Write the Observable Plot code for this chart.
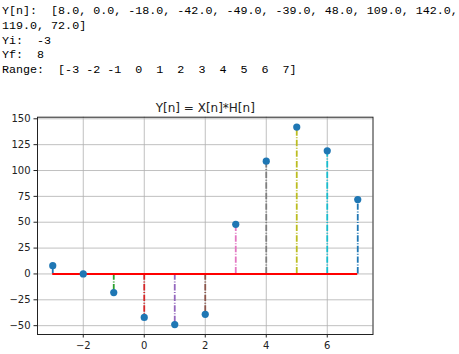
<!DOCTYPE html>
<html>
<head>
<meta charset="utf-8">
<script src="https://cdn.jsdelivr.net/npm/d3@7"></script>
<script src="https://cdn.jsdelivr.net/npm/@observablehq/plot@0.6"></script>
<style>
  html, body { margin: 0; padding: 0; background: #fff; width: 459px; height: 354px; overflow: hidden; }
  #out { position: absolute; left: 2px; top: 4px; margin: 0; font-family: "Liberation Mono", "DejaVu Sans Mono", monospace; font-size: 11.7px; line-height: 14.8px; color: #000; white-space: pre; }
  #chart { position: absolute; left: 0; top: 90px; }
</style>
</head>
<body>
<pre id="out"></pre>
<div id="chart"></div>
<script>
const n = [-3, -2, -1, 0, 1, 2, 3, 4, 5, 6, 7];
const yn = [8.0, 0.0, -18.0, -42.0, -49.0, -39.0, 48.0, 109.0, 142.0, 119.0, 72.0];
const Yi = -3;
const Yf = 8;
const xTicks = [-2, 0, 2, 4, 6];
const yTicks = [-50, -25, 0, 25, 50, 75, 100, 125, 150];
const title = "Y[n] = X[n]*H[n]";
const stemColors = ["#1f77b4", "#ff7f0e", "#2ca02c", "#d62728", "#9467bd", "#8c564b", "#e377c2", "#7f7f7f", "#bcbd22", "#17becf", "#1f77b4"];

// Printed output text
const fmt = v => v.toFixed(1);
const vals = yn.map(fmt);
const line1 = "Y[n]:  [" + vals.slice(0, 9).join(", ") + ",";
const line2 = vals.slice(9).join(", ") + "]";
const rangeStr = "Range:  [" + n.map(v => (v < 0 ? String(v) : " " + v).padStart(2, " ")).join(" ") + "]";
document.getElementById("out").textContent =
  line1 + "\n" + line2 + "\nYi:  " + Yi + "\nYf:  " + Yf + "\n" + rangeStr;

const data = n.map((v, i) => ({ n: v, y: yn[i], k: String(i) }));
const minus = d => (d < 0 ? "\u2212" + (-d) : String(d));

const chart = Plot.plot({
  width: 459,
  height: 264,
  marginLeft: 37,
  marginRight: 86.5,
  marginTop: 26.7,
  marginBottom: 20,
  style: { fontFamily: "DejaVu Sans, sans-serif", background: "transparent", color: "#222" },
  x: { domain: [-3.5, 7.5], label: null },
  y: { domain: [-58.55, 151.55], label: null },
  color: { type: "ordinal", domain: data.map(d => d.k), range: stemColors },
  marks: [
    Plot.gridX(xTicks, { stroke: "#b0b0b0", strokeOpacity: 1, strokeWidth: 0.8 }),
    Plot.gridY(yTicks, { stroke: "#b0b0b0", strokeOpacity: 1, strokeWidth: 0.8 }),
    Plot.axisX(xTicks, { tickSize: 3.5, tickPadding: 3.5, fontSize: 10, tickFormat: minus, stroke: "#222", fill: "#222" }),
    Plot.axisY(yTicks, { tickSize: 3.5, tickPadding: 3.5, fontSize: 10, tickFormat: minus, stroke: "#222", fill: "#222" }),
    Plot.ruleX(data, { x: "n", y1: 0, y2: "y", stroke: "k", strokeWidth: 1.8, strokeDasharray: "6.4,1.6,1,1.6" }),
    Plot.ruleY([0], { x1: n[0], x2: n[n.length - 1], stroke: "#ff0000", strokeWidth: 2 }),
    Plot.dot(data, { x: "n", y: "y", r: 3.6, fill: "#1f77b4", stroke: "none" }),
    Plot.frame({ stroke: "#222", strokeWidth: 1 }),
    Plot.text([title], { frameAnchor: "top", dy: -5, fontSize: 12, fill: "#222", lineAnchor: "bottom" })
  ]
});
document.getElementById("chart").appendChild(chart);
</script>
</body>
</html>
